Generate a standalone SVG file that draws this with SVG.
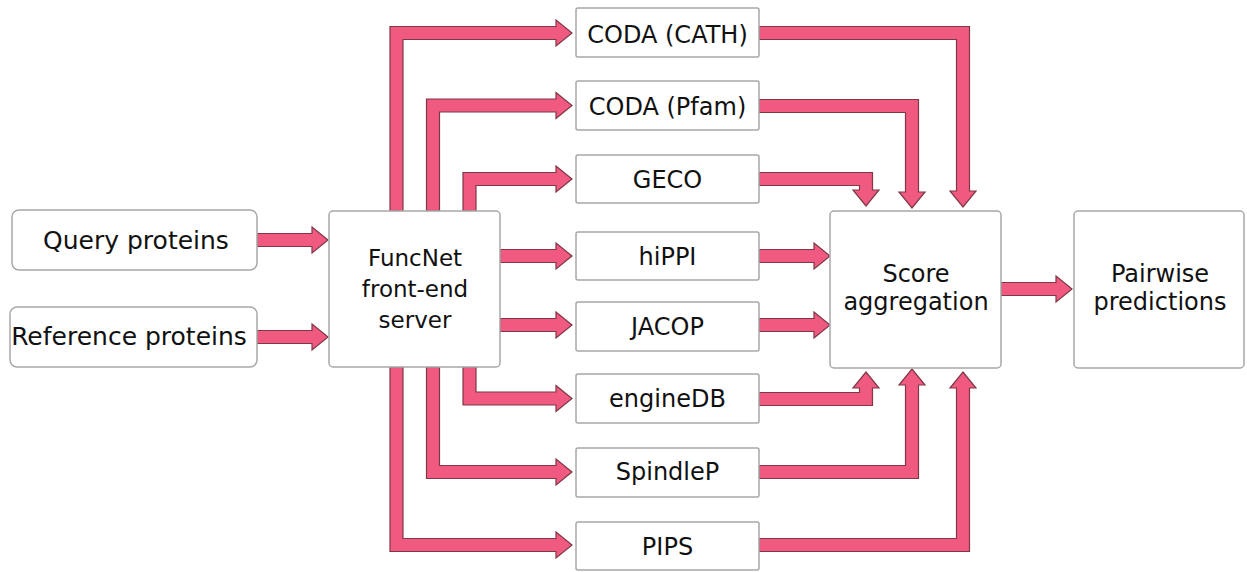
<svg xmlns="http://www.w3.org/2000/svg" width="1247" height="572" viewBox="0 0 1247 572">
<style>
.box{fill:#fff;stroke:#a8a8a8;stroke-width:1.5}
.t{font-family:"DejaVu Sans",Verdana,sans-serif;font-size:24px;fill:#111;text-anchor:middle}
.big{font-size:25px}
.mid{font-size:23px}
.arr{fill:#f05a80;stroke:#7e3846;stroke-width:1.2;stroke-linejoin:miter}
</style>
<rect width="1247" height="572" fill="#fff"/>
<g id="connectors">
<path class="arr" d="M257,233.5 L312,233.5 L312,227 L328,240 L312,253 L312,246.5 L257,246.5 Z"/>
<path class="arr" d="M257,330.5 L312,330.5 L312,324 L328,337 L312,350 L312,343.5 L257,343.5 Z"/>
<path class="arr" d="M390,211 L390,26.5 L556,26.5 L556,20 L572,33 L556,46 L556,39.5 L403,39.5 L403,211 Z"/>
<path class="arr" d="M426.5,211 L426.5,99 L556,99 L556,92.5 L572,105.5 L556,118.5 L556,112 L439.5,112 L439.5,211 Z"/>
<path class="arr" d="M463,211 L463,172.5 L556,172.5 L556,166 L572,179 L556,192 L556,185.5 L476,185.5 L476,211 Z"/>
<path class="arr" d="M500,249.5 L556,249.5 L556,243 L572,256 L556,269 L556,262.5 L500,262.5 Z"/>
<path class="arr" d="M500,318.5 L556,318.5 L556,312 L572,325 L556,338 L556,331.5 L500,331.5 Z"/>
<path class="arr" d="M463,367 L463,405 L556,405 L556,411.5 L572,398.5 L556,385.5 L556,392 L476,392 L476,367 Z"/>
<path class="arr" d="M426.5,367 L426.5,478.5 L556,478.5 L556,485 L572,472 L556,459 L556,465.5 L439.5,465.5 L439.5,367 Z"/>
<path class="arr" d="M390,367 L390,551.5 L556,551.5 L556,558 L572,545 L556,532 L556,538.5 L403,538.5 L403,367 Z"/>
<path class="arr" d="M759,26.5 L969.5,26.5 L969.5,191 L976,191 L963,207 L950,191 L956.5,191 L956.5,39.5 L759,39.5 Z"/>
<path class="arr" d="M759,99.5 L918.5,99.5 L918.5,192 L925,192 L912,208 L899,192 L905.5,192 L905.5,112.5 L759,112.5 Z"/>
<path class="arr" d="M759,172.5 L872.5,172.5 L872.5,190 L879,190 L866,206 L853,190 L859.5,190 L859.5,185.5 L759,185.5 Z"/>
<path class="arr" d="M759,249.5 L814,249.5 L814,243 L830,256 L814,269 L814,262.5 L759,262.5 Z"/>
<path class="arr" d="M759,318.5 L814,318.5 L814,312 L830,325 L814,338 L814,331.5 L759,331.5 Z"/>
<path class="arr" d="M759,405.5 L872.5,405.5 L872.5,388 L879,388 L866,372 L853,388 L859.5,388 L859.5,392.5 L759,392.5 Z"/>
<path class="arr" d="M759,478.5 L918.5,478.5 L918.5,385 L925,385 L912,369 L899,385 L905.5,385 L905.5,465.5 L759,465.5 Z"/>
<path class="arr" d="M759,551.5 L969.5,551.5 L969.5,388 L976,388 L963,372 L950,388 L956.5,388 L956.5,538.5 L759,538.5 Z"/>
<path class="arr" d="M1001,282.5 L1056,282.5 L1056,276 L1072,289 L1056,302 L1056,295.5 L1001,295.5 Z"/>
</g>
<g id="query"><rect class="box" x="12" y="210" width="245" height="60" rx="7"/><text class="t big" x="136" y="249">Query proteins</text></g>
<g id="reference"><rect class="box" x="10" y="307" width="247" height="60" rx="7"/><text class="t big" x="129" y="345">Reference proteins</text></g>
<g id="funcnet"><rect class="box" x="329" y="211" width="171" height="156" rx="4"/><text class="t mid" x="415" y="266">FuncNet</text><text class="t mid" x="415" y="297">front-end</text><text class="t mid" x="415" y="328">server</text></g>
<g id="coda-cath"><rect class="box" x="576" y="8" width="183" height="49" rx="2"/><text class="t" x="667.5" y="43">CODA (CATH)</text></g>
<g id="coda-pfam"><rect class="box" x="576" y="81" width="183" height="49" rx="2"/><text class="t" x="667.5" y="115">CODA (Pfam)</text></g>
<g id="geco"><rect class="box" x="576" y="155" width="183" height="48" rx="2"/><text class="t" x="667.5" y="188">GECO</text></g>
<g id="hippi"><rect class="box" x="576" y="232" width="183" height="48" rx="2"/><text class="t" x="667.5" y="265">hiPPI</text></g>
<g id="jacop"><rect class="box" x="576" y="302" width="183" height="49" rx="2"/><text class="t" x="667.5" y="335">JACOP</text></g>
<g id="enginedb"><rect class="box" x="576" y="374" width="183" height="49" rx="2"/><text class="t" x="667.5" y="407">engineDB</text></g>
<g id="spindlep"><rect class="box" x="576" y="448" width="183" height="49" rx="2"/><text class="t" x="667.5" y="480">SpindleP</text></g>
<g id="pips"><rect class="box" x="576" y="522" width="183" height="48" rx="2"/><text class="t" x="667.5" y="555">PIPS</text></g>
<g id="score"><rect class="box" x="830" y="211" width="171" height="157" rx="4"/><text class="t" x="916" y="282">Score</text><text class="t" x="916" y="310">aggregation</text></g>
<g id="pairwise"><rect class="box" x="1074" y="211" width="170" height="157" rx="4"/><text class="t" x="1160" y="282">Pairwise</text><text class="t" x="1160" y="310">predictions</text></g>
</svg>
